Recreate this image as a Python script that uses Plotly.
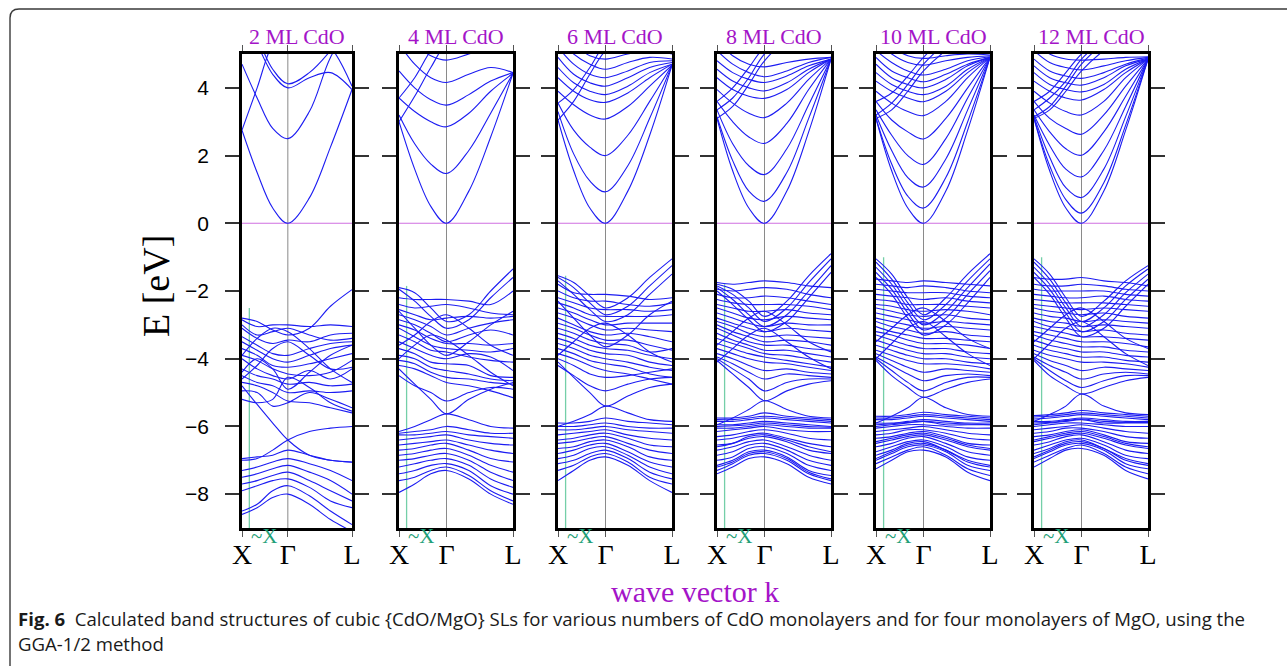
import plotly.graph_objects as go

# ---------------------------------------------------------------------------
# Band-structure data: energies (eV) sampled along X -> Gamma -> L
# ---------------------------------------------------------------------------
k_points = [0.0, 0.33, 0.67, 1.0, 1.47, 1.93, 2.4]
k_ticks = [0.0, 1.0, 2.4]
k_labels = ["X", "Γ", "L"]
energy_ticks = [-8, -6, -4, -2, 0, 2, 4]
fermi_level = 0.0
tilde_x_k = 0.16
tilde_x_top = [-2.5, -1.85, -1.55, -1.8, -1.0, -1.0]
titles = ["2 ML CdO", "4 ML CdO", "6 ML CdO", "8 ML CdO", "10 ML CdO", "12 ML CdO"]

cond_2ml = [
    [2.75, 1.5, 0.45, 0.0, 0.75, 2.25, 3.95],
    [4.7, 3.7, 2.8, 2.5, 3.3, 4.9, 5.9],
    [2.75, 4.0, 5.3, 5.8, 5.8, 5.9, 6.0],
    [6.2, 5.3, 4.4, 4.0, 4.3, 4.45, 3.95],
    [6.4, 5.5, 4.55, 4.12, 4.45, 5.1, 6.0],
    [6.5, 6.2, 5.9, 5.7, 5.6, 5.2, 4.05],
]
val_2ml = [
    [-2.8, -2.9, -3.15, -3.3, -3.1, -2.45, -1.96],
    [-2.85, -3.05, -3.0, -3.0, -3.05, -3.0, -3.05],
    [-3.0, -3.3, -3.2, -3.1, -3.3, -3.45, -3.4],
    [-3.1, -3.4, -3.55, -3.45, -3.5, -3.3, -3.25],
    [-3.35, -3.6, -3.85, -3.9, -3.7, -3.55, -3.5],
    [-3.5, -3.75, -4.0, -4.1, -3.9, -3.7, -3.6],
    [-3.7, -3.9, -4.2, -4.25, -4.15, -4.0, -3.85],
    [-3.9, -4.05, -4.3, -4.45, -4.5, -4.4, -4.05],
    [-4.0, -4.3, -4.5, -4.6, -4.35, -4.6, -4.3],
    [-4.3, -4.5, -4.6, -4.75, -4.7, -4.8, -4.75],
    [-4.5, -4.7, -4.8, -5.0, -4.95, -5.0, -4.95],
    [-4.7, -4.8, -5.0, -5.25, -5.3, -5.45, -5.6],
    [-4.95, -5.0, -5.4, -5.3, -5.0, -5.2, -5.45],
    [-5.2, -5.3, -5.2, -4.55, -4.85, -5.3, -5.55],
    [-4.6, -4.2, -3.7, -3.5, -3.9, -4.3, -4.25],
    [-3.9, -3.4, -3.1, -3.2, -3.7, -4.3, -4.7],
    [-4.4, -4.0, -4.3, -4.9, -4.4, -3.9, -3.6],
    [-4.8, -5.35, -5.9, -6.4, -6.85, -7.0, -7.06],
    [-7.0, -6.95, -6.7, -6.4, -6.15, -6.05, -6.0],
    [-6.95, -6.9, -6.85, -6.7, -6.85, -7.0, -7.05],
    [-7.3, -7.2, -7.05, -6.95, -7.1, -7.3, -7.6],
    [-7.5, -7.4, -7.25, -7.15, -7.35, -7.6, -8.0],
    [-7.7, -7.6, -7.45, -7.35, -7.6, -7.9, -8.2],
    [-7.9, -7.75, -7.6, -7.55, -7.8, -8.2, -8.4],
    [-8.5, -8.3, -7.9, -7.75, -8.05, -8.5, -8.9],
    [-8.6, -8.4, -8.1, -8.0, -8.3, -8.75, -9.1],
]

cond_4ml = [
    [3.0, 1.6, 0.5, 0.0, 0.95, 2.55, 4.43],
    [3.2, 2.35, 1.75, 1.47, 2.15, 3.25, 4.43],
    [3.7, 3.3, 3.0, 2.85, 3.25, 3.9, 4.43],
    [4.5, 4.0, 3.65, 3.49, 3.8, 4.2, 4.45],
    [5.3, 4.7, 4.3, 4.16, 4.4, 4.6, 4.45],
    [5.8, 5.3, 4.95, 4.82, 5.0, 5.2, 5.4],
    [3.0, 3.75, 4.6, 5.3, 5.6, 5.6, 5.6],
    [3.7, 4.3, 5.1, 5.6, 5.8, 5.8, 5.8],
]
val_4ml = [
    [-1.9, -2.05, -2.5, -2.9, -2.7, -2.0, -1.35],
    [-1.95, -2.3, -2.75, -3.1, -2.85, -2.2, -1.6],
    [-2.2, -2.25, -2.25, -2.25, -2.3, -2.4, -2.0],
    [-2.4, -2.5, -2.45, -2.4, -2.5, -2.65, -2.7],
    [-2.55, -2.7, -2.85, -2.8, -2.75, -2.8, -2.75],
    [-2.7, -2.85, -3.05, -3.3, -3.1, -2.95, -2.85],
    [-2.85, -3.0, -3.25, -3.5, -3.3, -3.15, -3.3],
    [-3.0, -3.15, -3.4, -3.55, -3.55, -3.6, -3.55],
    [-3.1, -3.35, -3.6, -3.7, -3.75, -3.8, -3.7],
    [-3.3, -3.5, -3.75, -3.8, -3.95, -4.05, -4.1],
    [-3.5, -3.7, -3.9, -4.0, -3.85, -3.95, -4.35],
    [-3.7, -3.85, -4.1, -4.15, -4.2, -4.5, -4.55],
    [-3.9, -4.0, -4.25, -4.35, -4.45, -4.6, -4.65],
    [-4.05, -4.15, -4.4, -4.55, -4.6, -4.7, -4.75],
    [-4.2, -4.3, -4.5, -4.7, -4.8, -4.95, -5.15],
    [-3.6, -3.3, -2.9, -2.7, -3.1, -3.6, -3.9],
    [-2.6, -3.1, -3.6, -3.9, -3.5, -3.0, -2.6],
    [-4.0, -3.6, -3.3, -3.45, -3.9, -4.4, -4.8],
    [-4.3, -4.75, -5.2, -5.63, -5.2, -4.9, -4.7],
    [-4.5, -4.8, -5.0, -5.25, -5.0, -4.85, -4.9],
    [-6.15, -6.0, -5.8, -5.63, -5.8, -6.0, -6.05],
    [-6.2, -6.15, -6.1, -6.0, -6.1, -6.2, -6.2],
    [-6.25, -6.25, -6.2, -6.15, -6.25, -6.3, -6.35],
    [-6.4, -6.35, -6.3, -6.25, -6.4, -6.5, -6.55],
    [-6.55, -6.5, -6.45, -6.4, -6.55, -6.7, -6.8],
    [-6.7, -6.65, -6.55, -6.5, -6.7, -6.95, -7.05],
    [-6.85, -6.8, -6.7, -6.65, -6.85, -7.15, -7.35],
    [-7.0, -6.95, -6.85, -6.8, -7.0, -7.35, -7.6],
    [-7.2, -7.1, -7.0, -6.95, -7.15, -7.55, -7.8],
    [-7.4, -7.3, -7.15, -7.1, -7.3, -7.75, -8.0],
    [-7.6, -7.5, -7.3, -7.2, -7.45, -7.9, -8.2],
    [-7.95, -7.7, -7.4, -7.3, -7.55, -8.0, -8.3],
]

cond_6ml = [
    [3.05, 1.55, 0.45, 0.0, 0.95, 2.6, 4.67],
    [3.3, 2.05, 1.25, 0.93, 1.7, 3.1, 4.67],
    [3.55, 2.75, 2.25, 2.0, 2.6, 3.6, 4.67],
    [3.9, 3.5, 3.2, 3.08, 3.45, 4.05, 4.67],
    [4.3, 3.9, 3.65, 3.57, 3.85, 4.3, 4.7],
    [4.6, 4.15, 3.9, 3.8, 4.05, 4.45, 4.7],
    [4.9, 4.4, 4.15, 4.05, 4.3, 4.6, 4.75],
    [5.2, 4.7, 4.4, 4.3, 4.5, 4.75, 4.8],
    [5.5, 5.0, 4.7, 4.55, 4.75, 4.9, 4.85],
    [5.8, 5.3, 4.95, 4.85, 5.0, 5.1, 5.0],
    [3.05, 3.6, 4.4, 5.1, 5.6, 5.7, 5.7],
    [3.55, 3.95, 4.6, 5.3, 5.7, 5.8, 5.8],
]
val_6ml = [
    [-1.55, -1.75, -2.15, -2.5, -2.2, -1.6, -1.05],
    [-1.6, -1.9, -2.35, -2.7, -2.45, -1.85, -1.25],
    [-1.7, -2.1, -2.55, -2.9, -2.7, -2.1, -1.5],
    [-1.8, -2.05, -2.1, -2.1, -2.15, -2.25, -2.2],
    [-2.0, -2.2, -2.3, -2.3, -2.4, -2.45, -2.35],
    [-2.2, -2.35, -2.5, -2.55, -2.55, -2.6, -2.55],
    [-2.35, -2.5, -2.7, -2.75, -2.75, -2.75, -2.7],
    [-2.5, -2.65, -2.85, -3.0, -2.95, -2.95, -2.95],
    [-2.65, -2.8, -3.0, -3.15, -3.1, -3.15, -3.2],
    [-2.8, -3.0, -3.2, -3.3, -3.25, -3.35, -3.5],
    [-2.95, -3.1, -3.3, -3.45, -3.45, -3.6, -3.75],
    [-3.1, -3.25, -3.45, -3.55, -3.6, -3.8, -3.7],
    [-3.25, -3.4, -3.6, -3.7, -3.75, -3.9, -4.0],
    [-3.4, -3.55, -3.75, -3.85, -3.9, -4.1, -4.2],
    [-3.55, -3.7, -3.9, -4.0, -4.1, -4.25, -4.35],
    [-3.7, -3.85, -4.05, -4.15, -4.25, -4.45, -4.55],
    [-3.85, -4.0, -4.2, -4.35, -4.45, -4.6, -4.75],
    [-4.0, -4.2, -4.45, -4.55, -4.5, -4.4, -4.3],
    [-3.9, -3.5, -3.1, -2.95, -3.3, -3.8, -4.1],
    [-2.3, -2.8, -3.3, -3.65, -3.3, -2.7, -2.3],
    [-4.1, -4.55, -5.0, -5.4, -5.1, -4.85, -4.75],
    [-4.2, -4.5, -4.8, -4.95, -4.75, -4.6, -4.55],
    [-6.0, -5.85, -5.65, -5.4, -5.6, -5.8, -5.85],
    [-5.9, -5.9, -5.85, -5.75, -5.85, -5.9, -5.95],
    [-6.0, -6.0, -5.95, -5.9, -6.0, -6.05, -6.05],
    [-6.1, -6.1, -6.05, -6.0, -6.1, -6.15, -6.2],
    [-6.25, -6.2, -6.15, -6.1, -6.25, -6.35, -6.4],
    [-6.4, -6.35, -6.25, -6.2, -6.35, -6.55, -6.6],
    [-6.5, -6.45, -6.35, -6.3, -6.5, -6.7, -6.8],
    [-6.65, -6.6, -6.45, -6.4, -6.6, -6.9, -7.0],
    [-6.8, -6.7, -6.55, -6.5, -6.75, -7.05, -7.2],
    [-6.95, -6.85, -6.65, -6.6, -6.85, -7.2, -7.4],
    [-7.1, -7.0, -6.8, -6.7, -6.95, -7.35, -7.55],
    [-7.3, -7.15, -6.9, -6.8, -7.05, -7.5, -7.7],
    [-7.6, -7.3, -7.0, -6.9, -7.15, -7.6, -7.95],
]

cond_8ml = [
    [3.1, 1.55, 0.45, 0.0, 0.95, 2.7, 4.85],
    [3.15, 1.85, 0.95, 0.65, 1.5, 3.1, 4.85],
    [3.35, 2.35, 1.7, 1.44, 2.2, 3.5, 4.85],
    [3.6, 3.0, 2.55, 2.36, 2.95, 3.95, 4.85],
    [3.95, 3.55, 3.25, 3.12, 3.55, 4.25, 4.85],
    [4.3, 3.95, 3.75, 3.69, 3.95, 4.45, 4.85],
    [4.55, 4.2, 4.0, 3.91, 4.15, 4.55, 4.85],
    [4.8, 4.45, 4.25, 4.16, 4.35, 4.65, 4.85],
    [5.1, 4.7, 4.45, 4.33, 4.5, 4.75, 4.9],
    [5.4, 4.95, 4.7, 4.62, 4.75, 4.85, 4.9],
    [3.1, 3.45, 4.1, 4.8, 5.4, 5.6, 5.6],
    [3.35, 3.7, 4.3, 5.0, 5.5, 5.7, 5.7],
    [3.6, 4.0, 4.6, 5.2, 5.6, 5.8, 5.8],
]
val_8ml = [
    [-1.8, -1.95, -2.3, -2.75, -2.3, -1.55, -0.9],
    [-1.85, -2.1, -2.5, -2.9, -2.5, -1.75, -1.05],
    [-1.9, -2.25, -2.7, -3.05, -2.7, -2.0, -1.25],
    [-2.0, -2.4, -2.85, -3.2, -2.9, -2.2, -1.45],
    [-1.75, -1.8, -1.75, -1.7, -1.75, -1.85, -1.9],
    [-1.95, -2.0, -1.95, -1.9, -1.95, -2.1, -2.2],
    [-2.1, -2.2, -2.2, -2.15, -2.2, -2.3, -2.4],
    [-2.25, -2.35, -2.4, -2.4, -2.4, -2.45, -2.55],
    [-2.4, -2.5, -2.6, -2.6, -2.55, -2.65, -2.7],
    [-2.5, -2.65, -2.8, -2.85, -2.75, -2.8, -2.85],
    [-2.65, -2.8, -2.95, -3.05, -2.95, -3.0, -3.0],
    [-2.8, -2.95, -3.1, -3.2, -3.1, -3.15, -3.2],
    [-2.9, -3.05, -3.25, -3.35, -3.3, -3.35, -3.4],
    [-3.0, -3.2, -3.35, -3.5, -3.45, -3.5, -3.6],
    [-3.1, -3.3, -3.5, -3.6, -3.6, -3.7, -3.75],
    [-3.25, -3.45, -3.6, -3.75, -3.75, -3.85, -3.95],
    [-3.4, -3.55, -3.7, -3.85, -3.9, -4.0, -4.1],
    [-3.55, -3.7, -3.85, -3.95, -4.05, -4.15, -4.25],
    [-3.7, -3.85, -4.0, -4.1, -4.15, -4.25, -4.35],
    [-3.85, -4.0, -4.2, -4.35, -4.3, -4.4, -4.45],
    [-3.95, -4.15, -4.4, -4.6, -4.45, -4.5, -4.55],
    [-3.6, -3.2, -2.8, -2.6, -3.0, -3.5, -3.8],
    [-4.1, -3.7, -3.3, -3.1, -3.5, -3.95, -4.3],
    [-4.0, -4.3, -4.6, -4.95, -4.7, -4.6, -4.6],
    [-4.05, -4.45, -4.85, -5.24, -4.95, -4.75, -4.65],
    [-5.95, -5.75, -5.5, -5.24, -5.5, -5.7, -5.75],
    [-5.75, -5.75, -5.7, -5.6, -5.7, -5.75, -5.8],
    [-5.8, -5.8, -5.75, -5.7, -5.75, -5.8, -5.85],
    [-5.85, -5.85, -5.8, -5.75, -5.8, -5.85, -5.9],
    [-5.95, -5.95, -5.9, -5.85, -5.9, -5.95, -6.0],
    [-6.0, -5.98, -5.95, -5.9, -5.95, -6.0, -6.02],
    [-6.05, -6.05, -6.0, -5.95, -6.0, -6.05, -6.05],
    [-6.15, -6.1, -6.05, -6.0, -6.1, -6.15, -6.15],
    [-6.3, -6.25, -6.15, -6.1, -6.2, -6.35, -6.4],
    [-6.4, -6.35, -6.25, -6.2, -6.35, -6.5, -6.6],
    [-6.55, -6.5, -6.35, -6.3, -6.45, -6.7, -6.8],
    [-6.6, -6.5, -6.3, -6.25, -6.4, -6.6, -6.75],
    [-6.7, -6.6, -6.45, -6.4, -6.6, -6.85, -7.0],
    [-6.85, -6.75, -6.55, -6.5, -6.7, -7.0, -7.15],
    [-7.0, -6.9, -6.65, -6.6, -6.8, -7.15, -7.3],
    [-7.15, -7.0, -6.75, -6.7, -6.9, -7.3, -7.45],
    [-7.2, -7.05, -6.8, -6.75, -6.95, -7.35, -7.55],
    [-7.3, -7.1, -6.85, -6.8, -7.0, -7.4, -7.6],
    [-7.4, -7.2, -6.95, -6.9, -7.1, -7.5, -7.7],
]

cond_10ml = [
    [3.1, 1.55, 0.45, 0.0, 0.95, 2.75, 4.9],
    [3.1, 1.75, 0.8, 0.45, 1.35, 3.0, 4.9],
    [3.2, 2.15, 1.35, 1.07, 1.9, 3.35, 4.9],
    [3.35, 2.6, 2.0, 1.74, 2.5, 3.7, 4.9],
    [3.6, 3.05, 2.7, 2.49, 3.1, 4.0, 4.9],
    [3.9, 3.55, 3.3, 3.18, 3.6, 4.3, 4.9],
    [4.2, 3.9, 3.7, 3.59, 3.9, 4.45, 4.9],
    [4.45, 4.1, 3.9, 3.8, 4.05, 4.55, 4.9],
    [4.7, 4.3, 4.1, 4.0, 4.25, 4.65, 4.9],
    [4.9, 4.5, 4.3, 4.18, 4.4, 4.7, 4.9],
    [5.1, 4.75, 4.5, 4.38, 4.55, 4.8, 4.92],
    [5.4, 5.0, 4.75, 4.67, 4.8, 4.9, 4.95],
    [5.6, 5.2, 4.95, 4.87, 4.95, 5.0, 4.97],
    [3.1, 3.35, 3.9, 4.5, 5.1, 5.5, 5.6],
    [3.2, 3.55, 4.1, 4.7, 5.3, 5.6, 5.7],
    [3.6, 3.85, 4.35, 4.9, 5.5, 5.7, 5.8],
]
val_10ml = [
    [-1.05, -1.5, -2.2, -2.7, -2.2, -1.5, -0.9],
    [-1.15, -1.65, -2.35, -2.85, -2.4, -1.7, -1.05],
    [-1.3, -1.8, -2.5, -3.0, -2.6, -1.9, -1.2],
    [-1.45, -1.95, -2.65, -3.15, -2.8, -2.1, -1.4],
    [-1.6, -2.1, -2.8, -3.3, -3.0, -2.35, -1.6],
    [-1.65, -1.7, -1.75, -1.7, -1.75, -1.8, -1.85],
    [-1.8, -1.85, -1.9, -1.85, -1.9, -2.0, -2.05],
    [-1.95, -2.0, -2.05, -2.05, -2.05, -2.15, -2.2],
    [-2.1, -2.15, -2.2, -2.25, -2.2, -2.3, -2.35],
    [-2.25, -2.3, -2.4, -2.4, -2.4, -2.45, -2.5],
    [-2.4, -2.45, -2.55, -2.6, -2.55, -2.6, -2.7],
    [-2.5, -2.6, -2.7, -2.75, -2.7, -2.8, -2.85],
    [-2.65, -2.75, -2.85, -2.95, -2.9, -2.95, -3.0],
    [-2.8, -2.9, -3.0, -3.1, -3.05, -3.1, -3.15],
    [-2.9, -3.05, -3.15, -3.25, -3.2, -3.3, -3.35],
    [-3.05, -3.2, -3.3, -3.4, -3.4, -3.45, -3.5],
    [-3.2, -3.3, -3.45, -3.55, -3.55, -3.6, -3.7],
    [-3.3, -3.45, -3.6, -3.7, -3.7, -3.8, -3.85],
    [-3.45, -3.6, -3.75, -3.85, -3.85, -3.95, -4.0],
    [-3.6, -3.75, -3.9, -4.0, -4.0, -4.1, -4.15],
    [-3.75, -3.9, -4.05, -4.15, -4.15, -4.2, -4.3],
    [-3.85, -4.05, -4.25, -4.4, -4.3, -4.35, -4.4],
    [-3.95, -4.2, -4.45, -4.65, -4.5, -4.45, -4.5],
    [-3.5, -3.1, -2.7, -2.5, -2.9, -3.4, -3.7],
    [-4.0, -3.55, -3.1, -2.9, -3.35, -3.85, -4.2],
    [-4.0, -4.35, -4.7, -4.95, -4.7, -4.55, -4.55],
    [-4.05, -4.5, -4.85, -5.14, -4.9, -4.7, -4.6],
    [-5.9, -5.7, -5.45, -5.14, -5.45, -5.65, -5.7],
    [-5.7, -5.7, -5.65, -5.58, -5.65, -5.7, -5.75],
    [-5.75, -5.75, -5.7, -5.65, -5.7, -5.75, -5.8],
    [-5.8, -5.8, -5.75, -5.7, -5.75, -5.8, -5.85],
    [-5.9, -5.9, -5.85, -5.8, -5.85, -5.9, -5.9],
    [-5.95, -5.92, -5.88, -5.85, -5.9, -5.93, -5.95],
    [-6.0, -5.95, -5.9, -5.85, -5.95, -5.95, -5.95],
    [-6.05, -6.0, -5.95, -5.95, -6.0, -6.05, -6.05],
    [-6.15, -6.1, -6.05, -6.0, -6.1, -6.2, -6.25],
    [-6.25, -6.2, -6.1, -6.1, -6.2, -6.35, -6.4],
    [-6.35, -6.3, -6.2, -6.15, -6.3, -6.5, -6.55],
    [-6.45, -6.35, -6.25, -6.2, -6.35, -6.55, -6.65],
    [-6.5, -6.4, -6.3, -6.25, -6.4, -6.6, -6.7],
    [-6.6, -6.5, -6.35, -6.3, -6.5, -6.75, -6.85],
    [-6.75, -6.6, -6.45, -6.4, -6.6, -6.9, -7.0],
    [-6.85, -6.7, -6.5, -6.45, -6.7, -7.0, -7.15],
    [-6.95, -6.75, -6.55, -6.5, -6.7, -7.05, -7.2],
    [-7.0, -6.8, -6.6, -6.55, -6.75, -7.15, -7.3],
    [-7.1, -6.9, -6.7, -6.6, -6.85, -7.25, -7.45],
    [-7.25, -7.0, -6.75, -6.7, -6.9, -7.35, -7.6],
]

cond_12ml = [
    [3.1, 1.55, 0.45, 0.0, 0.95, 2.75, 4.85],
    [3.1, 1.7, 0.7, 0.3, 1.2, 2.9, 4.85],
    [3.15, 1.95, 1.05, 0.76, 1.6, 3.15, 4.85],
    [3.2, 2.3, 1.6, 1.37, 2.15, 3.45, 4.85],
    [3.35, 2.7, 2.2, 2.01, 2.7, 3.75, 4.85],
    [3.6, 3.1, 2.8, 2.63, 3.2, 4.05, 4.85],
    [3.9, 3.55, 3.3, 3.2, 3.6, 4.3, 4.85],
    [4.2, 3.9, 3.7, 3.64, 3.95, 4.45, 4.85],
    [4.45, 4.1, 3.95, 3.88, 4.1, 4.55, 4.85],
    [4.65, 4.3, 4.15, 4.08, 4.3, 4.65, 4.85],
    [4.85, 4.5, 4.35, 4.28, 4.45, 4.7, 4.88],
    [5.1, 4.75, 4.6, 4.53, 4.65, 4.8, 4.9],
    [5.4, 5.0, 4.85, 4.82, 4.85, 4.9, 4.92],
    [3.1, 3.35, 3.9, 4.5, 5.1, 5.5, 5.6],
    [3.15, 3.45, 4.05, 4.7, 5.3, 5.6, 5.7],
    [3.35, 3.7, 4.2, 4.85, 5.4, 5.7, 5.8],
    [3.6, 3.9, 4.45, 5.0, 5.5, 5.8, 5.9],
]
val_12ml = [
    [-1.05, -1.5, -2.2, -2.75, -2.3, -1.7, -1.25],
    [-1.15, -1.65, -2.35, -2.9, -2.5, -1.85, -1.35],
    [-1.3, -1.8, -2.5, -3.05, -2.7, -2.05, -1.5],
    [-1.45, -1.95, -2.65, -3.2, -2.9, -2.25, -1.65],
    [-1.6, -2.1, -2.8, -3.35, -3.1, -2.45, -1.8],
    [-1.6, -1.65, -1.65, -1.6, -1.7, -1.75, -1.85],
    [-1.8, -1.85, -1.85, -1.8, -1.85, -1.95, -2.0],
    [-1.95, -2.0, -2.0, -2.0, -2.0, -2.1, -2.15],
    [-2.1, -2.15, -2.2, -2.2, -2.15, -2.25, -2.3],
    [-2.25, -2.3, -2.35, -2.35, -2.35, -2.4, -2.45],
    [-2.4, -2.45, -2.5, -2.55, -2.5, -2.55, -2.6],
    [-2.5, -2.6, -2.65, -2.7, -2.65, -2.75, -2.8],
    [-2.65, -2.75, -2.8, -2.9, -2.85, -2.9, -2.95],
    [-2.8, -2.9, -2.95, -3.05, -3.0, -3.05, -3.1],
    [-2.9, -3.05, -3.1, -3.2, -3.15, -3.25, -3.3],
    [-3.05, -3.15, -3.25, -3.35, -3.35, -3.4, -3.45],
    [-3.2, -3.3, -3.4, -3.5, -3.5, -3.55, -3.65],
    [-3.3, -3.45, -3.55, -3.65, -3.65, -3.75, -3.8],
    [-3.45, -3.6, -3.7, -3.8, -3.8, -3.9, -3.95],
    [-3.6, -3.75, -3.85, -3.95, -3.95, -4.05, -4.1],
    [-3.75, -3.9, -4.0, -4.1, -4.1, -4.15, -4.25],
    [-3.85, -4.05, -4.2, -4.35, -4.25, -4.3, -4.35],
    [-3.95, -4.2, -4.4, -4.6, -4.45, -4.4, -4.45],
    [-3.5, -3.1, -2.7, -2.5, -2.9, -3.4, -3.7],
    [-4.0, -3.55, -3.1, -2.9, -3.35, -3.85, -4.2],
    [-4.0, -4.35, -4.65, -4.85, -4.65, -4.5, -4.5],
    [-4.05, -4.5, -4.8, -5.04, -4.85, -4.65, -4.55],
    [-5.85, -5.65, -5.4, -5.04, -5.4, -5.6, -5.65],
    [-5.68, -5.65, -5.6, -5.53, -5.6, -5.65, -5.7],
    [-5.72, -5.7, -5.65, -5.6, -5.65, -5.7, -5.75],
    [-5.78, -5.75, -5.7, -5.65, -5.7, -5.75, -5.8],
    [-5.85, -5.85, -5.8, -5.75, -5.8, -5.85, -5.85],
    [-5.9, -5.88, -5.83, -5.78, -5.85, -5.88, -5.88],
    [-5.95, -5.9, -5.85, -5.8, -5.9, -5.9, -5.9],
    [-6.0, -5.95, -5.9, -5.9, -5.95, -6.0, -6.0],
    [-6.1, -6.05, -6.0, -5.95, -6.05, -6.15, -6.2],
    [-6.2, -6.15, -6.05, -6.05, -6.15, -6.3, -6.35],
    [-6.3, -6.25, -6.15, -6.1, -6.25, -6.45, -6.5],
    [-6.4, -6.3, -6.2, -6.15, -6.3, -6.5, -6.6],
    [-6.45, -6.35, -6.25, -6.2, -6.35, -6.55, -6.65],
    [-6.55, -6.45, -6.3, -6.25, -6.45, -6.7, -6.8],
    [-6.7, -6.55, -6.4, -6.35, -6.55, -6.85, -6.95],
    [-6.8, -6.65, -6.45, -6.4, -6.65, -6.95, -7.1],
    [-6.9, -6.7, -6.5, -6.45, -6.65, -7.0, -7.15],
    [-6.95, -6.75, -6.55, -6.5, -6.7, -7.1, -7.25],
    [-7.05, -6.85, -6.65, -6.55, -6.8, -7.2, -7.4],
    [-7.2, -6.95, -6.7, -6.65, -6.85, -7.3, -7.55],
]

conduction = [cond_2ml, cond_4ml, cond_6ml, cond_8ml, cond_10ml, cond_12ml]
valence = [val_2ml, val_4ml, val_6ml, val_8ml, val_10ml, val_12ml]

# ---------------------------------------------------------------------------
# Page layout (pixels of the 1287 x 666 canvas)
# ---------------------------------------------------------------------------
W, H = 1287, 666
panel_left = [242, 399, 558, 717, 876, 1034]
panel_right = [352, 513, 672, 831, 990, 1148]
plot_top, plot_bottom = 54, 528

BAND = "#1c1cf2"
PURPLE = "#a414c8"
GREEN_LINE = "#74cfa8"
GREEN_TEXT = "#1f9f78"
SERIF = "Liberation Serif, Times New Roman, serif"
SANS = "Liberation Sans, Arial, sans-serif"


def px(x):
    return x / W


def py(y):
    return 1 - y / H


fig = go.Figure()
layout = dict(
    width=W, height=H,
    margin=dict(l=0, r=0, t=0, b=0, pad=0),
    paper_bgcolor="white", plot_bgcolor="white",
    showlegend=False, hovermode=False,
)

annotations = []
k_max = k_points[-1]
e_lo, e_hi = -9, 5

for i in range(6):
    sfx = "" if i == 0 else str(i + 1)
    xa, ya = "x" + sfx, "y" + sfx

    # Gamma guide, Fermi level, ~X marker
    fig.add_trace(go.Scatter(x=[k_ticks[1], k_ticks[1]], y=[e_lo, e_hi], mode="lines",
                             line=dict(color="#8a8a8a", width=1), xaxis=xa, yaxis=ya))
    fig.add_trace(go.Scatter(x=[0, k_max], y=[fermi_level, fermi_level], mode="lines",
                             line=dict(color="#cf6fe0", width=1.1), xaxis=xa, yaxis=ya))
    fig.add_trace(go.Scatter(x=[tilde_x_k, tilde_x_k], y=[e_lo, tilde_x_top[i]], mode="lines",
                             line=dict(color=GREEN_LINE, width=1.3), xaxis=xa, yaxis=ya))

    for band in conduction[i] + valence[i]:
        fig.add_trace(go.Scatter(x=k_points, y=band, mode="lines",
                                 line=dict(color=BAND, width=1.1, shape="spline", smoothing=1.0),
                                 xaxis=xa, yaxis=ya))

    layout["xaxis" + sfx] = dict(
        domain=[px(panel_left[i]), px(panel_right[i])], range=[0, k_max],
        anchor=ya, tickmode="array", tickvals=k_ticks, ticktext=k_labels,
        ticks="outside", ticklen=6, tickwidth=1.2, tickcolor="#555",
        showline=True, linecolor="black", linewidth=2.6, mirror="ticks",
        showgrid=False, zeroline=False, automargin=False,
        tickfont=dict(family=SERIF, size=28, color="black"),
        ticklabelstandoff=-6,
    )
    layout["yaxis" + sfx] = dict(
        domain=[py(plot_bottom), py(plot_top)], range=[e_lo, e_hi],
        anchor=xa, tickmode="array", tickvals=energy_ticks,
        ticks="outside", ticklen=14, tickwidth=1.5, tickcolor="#333",
        showline=True, linecolor="black", linewidth=2.6, mirror="ticks",
        showgrid=False, zeroline=False, automargin=False, showticklabels=(i == 0),
        tickfont=dict(family=SANS, size=21, color="black"),
        ticklabelstandoff=12,
    )

    annotations.append(dict(
        text=titles[i], xref="paper", yref="paper",
        x=px((panel_left[i] + panel_right[i]) / 2), y=py(36),
        xanchor="center", yanchor="middle", showarrow=False,
        font=dict(family=SERIF, size=22, color=PURPLE)))
    annotations.append(dict(
        text="~X", xref=xa, yref="paper", x=tilde_x_k, xshift=15, y=py(536),
        xanchor="center", yanchor="middle", showarrow=False,
        font=dict(family=SERIF, size=21, color=GREEN_TEXT)))

annotations += [
    dict(text="E [eV]", xref="paper", yref="paper", x=px(156), y=py(286),
         textangle=-90, showarrow=False, xanchor="center", yanchor="middle",
         font=dict(family=SERIF, size=38, color="black")),
    dict(text="wave vector k", xref="paper", yref="paper", x=px(695), y=py(591),
         showarrow=False, xanchor="center", yanchor="middle",
         font=dict(family=SERIF, size=30, color=PURPLE)),
    dict(text="<b>Fig. 6</b>  Calculated band structures of cubic {CdO/MgO} SLs for various numbers "
              "of CdO monolayers and for four monolayers of MgO, using the",
         xref="paper", yref="paper", x=px(16), y=py(618), showarrow=False,
         xanchor="left", yanchor="middle",
         font=dict(family="Open Sans, sans-serif", size=18.6, color="#1a1a1a")),
    dict(text="GGA-1/2 method", xref="paper", yref="paper", x=px(16), y=py(643),
         showarrow=False, xanchor="left", yanchor="middle",
         font=dict(family="Open Sans, sans-serif", size=18.6, color="#1a1a1a")),
]
layout["annotations"] = annotations

# rounded frame around the figure block
r = 9
frame = (f"M {px(10)},{py(H + 20)} L {px(10)},{py(9 + r)} "
         f"Q {px(10)},{py(9)} {px(10 + r)},{py(9)} L {px(W + 20)},{py(9)}")
layout["shapes"] = [dict(type="path", path=frame, xref="paper", yref="paper",
                         line=dict(color="#3a3a3a", width=1.4))]

fig.update_layout(**layout)
fig.write_html("out.html")
